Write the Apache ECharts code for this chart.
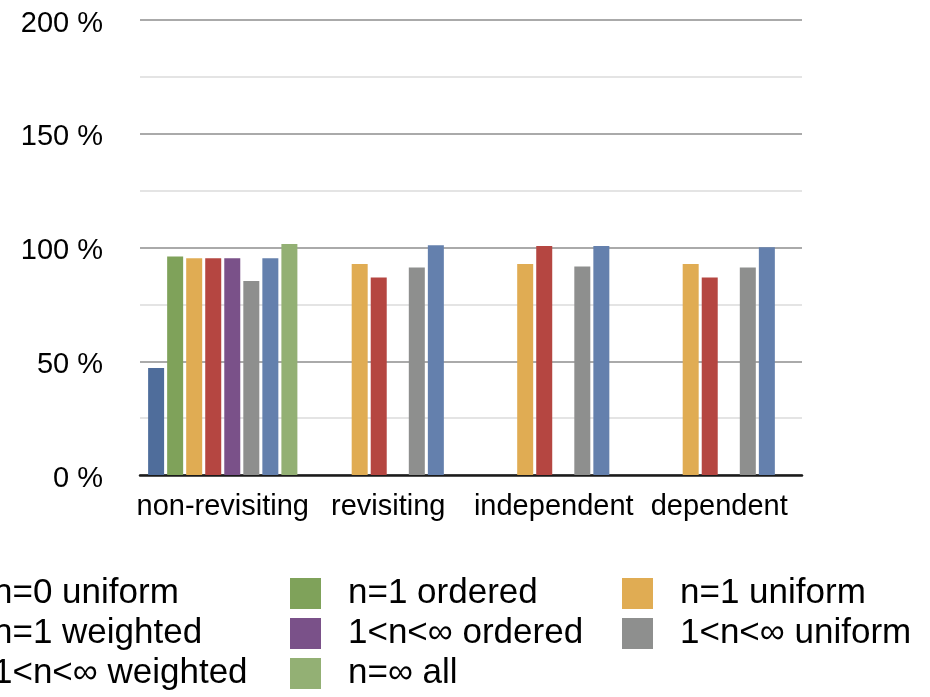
<!DOCTYPE html>
<html>
<head>
<meta charset="utf-8">
<script src="https://cdn.jsdelivr.net/npm/echarts@6/dist/echarts.min.js"></script>
<style>
  html, body { margin: 0; padding: 0; background: #fff; }
  #chart { width: 930px; height: 697px; }
</style>
</head>
<body>
<div id="chart"></div>
<script>
// Categories along the x axis
const categories = ['non-revisiting', 'revisiting', 'independent', 'dependent'];

// Series names, in legend / bar order
const seriesNames = [
  'n=0 uniform', 'n=1 ordered', 'n=1 uniform', 'n=1 weighted',
  '1<n<\u221E ordered', '1<n<\u221E uniform', '1<n<\u221E weighted', 'n=\u221E all'
];

// Values in percent, one array per series (null = no bar for that category)
const n0Uniform      = [47.0, null, null, null];
const n1Ordered      = [96.0, null, null, null];
const n1Uniform      = [95.3, 92.7, 92.7, 92.7];
const n1Weighted     = [95.3, 86.8, 100.7, 86.8];
const nMidOrdered    = [95.3, null, null, null];
const nMidUniform    = [85.3, 91.2, 91.6, 91.2];
const nMidWeighted   = [95.3, 101.0, 100.7, 100.1];
const nInfAll        = [101.5, null, null, null];

// Y axis ticks
const yTicks = [0, 50, 100, 150, 200];

const seriesValues = [n0Uniform, n1Ordered, n1Uniform, n1Weighted,
                      nMidOrdered, nMidUniform, nMidWeighted, nInfAll];
const colors = ['#4F6D9B', '#7FA25A', '#E0AC53', '#B54641',
                '#7A5189', '#8E8F8E', '#6480AD', '#93B074'];

const FONT = '"Liberation Sans", Arial, Helvetica, sans-serif';

// One vertical legend column per group of series
function legendColumn(names, left) {
  return {
    orient: 'vertical',
    left: left,
    top: 576,
    height: 200,
    padding: 0,
    itemWidth: 31,
    itemHeight: 31,
    itemGap: 5,
    icon: 'rect',
    selectedMode: false,
    data: names,
    textStyle: {
      fontFamily: FONT,
      fontSize: 35,
      color: '#000',
      padding: [0, 0, 0, 22]
    }
  };
}

const chart = echarts.init(document.getElementById('chart'), null, { renderer: 'canvas' });

chart.setOption({
  animation: false,
  backgroundColor: '#fff',
  color: colors,
  grid: { left: 140, right: 128, top: 20, bottom: 222, containLabel: false },
  legend: [
    legendColumn([seriesNames[0], seriesNames[3], seriesNames[6]], -65),
    legendColumn([seriesNames[1], seriesNames[4], seriesNames[7]], 290),
    legendColumn([seriesNames[2], seriesNames[5]], 622)
  ],
  xAxis: {
    type: 'category',
    data: categories,
    axisLine: { show: true, lineStyle: { color: '#1a1a1a', width: 2.5 } },
    axisTick: { show: false },
    axisLabel: { interval: 0, fontFamily: FONT, fontSize: 29, color: '#000', margin: 17 }
  },
  yAxis: {
    type: 'value',
    min: yTicks[0],
    max: yTicks[yTicks.length - 1],
    interval: yTicks[1] - yTicks[0],
    axisLine: { show: false },
    axisTick: { show: false },
    axisLabel: {
      margin: 37,
      formatter: '{t|{value} %}',
      rich: {
        t: {
          fontFamily: FONT, fontSize: 29, color: '#000',
          padding: [7, 0, 0, 0]
        }
      }
    },
    splitLine: { show: true, lineStyle: { color: '#aaaaaa', width: 2 } },
    minorTick: { show: false, splitNumber: 2 },
    minorSplitLine: { show: true, lineStyle: { color: '#dcdcdc', width: 1.5 } }
  },
  series: seriesNames.map((name, i) => ({
    name: name,
    type: 'bar',
    data: seriesValues[i],
    barWidth: 16,
    barGap: '19%',
    itemStyle: { color: colors[i] }
  }))
});
</script>
</body>
</html>
